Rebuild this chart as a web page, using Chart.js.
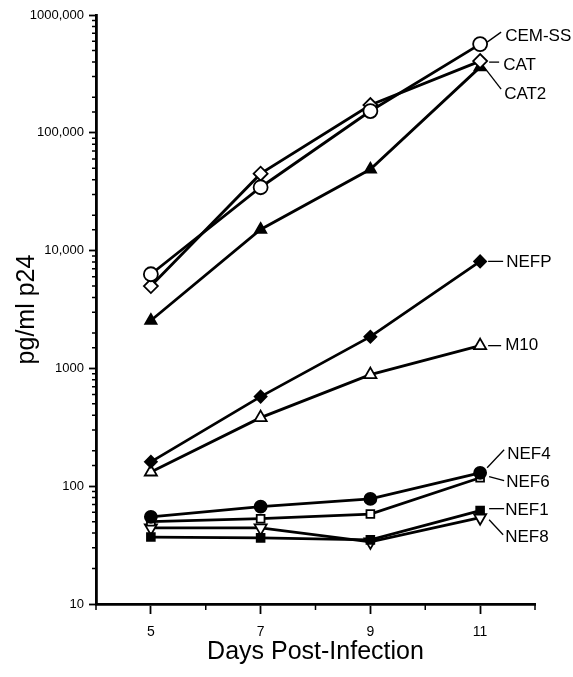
<!DOCTYPE html>
<html lang="en">
<head>
    <meta charset="UTF-8">
    <title>p24 production</title>
    <script src="https://cdn.jsdelivr.net/npm/chart.js"></script>
    <style>
        body { margin: 0; background: #fff; }
    </style>
</head>
<body>
    <canvas id="p24Chart" width="573" height="677"></canvas>

    <script>
        const days = [5, 7, 9, 11];

        const cemSS = [6300, 34500, 153000, 566000];
        const cat   = [5000, 45000, 172000, 406000];
        const cat2  = [2550, 15100, 49000, 361000];
        const nefP  = [161, 576, 1860, 8100];
        const m10   = [132, 382, 885, 1560];
        const nef4  = [55, 67, 78, 130];
        const nef6  = [50, 53, 58, 118];
        const nef1  = [37, 36.4, 35, 62];
        const nef8  = [44.3, 44.3, 33.7, 54];

        const seriesNames = ['CEM-SS', 'CAT', 'CAT2', 'NEFP', 'M10', 'NEF4', 'NEF6', 'NEF1', 'NEF8'];

        const yTickValues = [10, 100, 1000, 10000, 100000, 1000000];
        const yTickLabels = ['10', '100', '1000', '10,000', '100,000', '1000,000'];
        const xTickValues = [5, 7, 9, 11];
        const xTickLabels = ['5', '7', '9', '11'];

        const FONT = "'Liberation Sans', Arial, Helvetica, sans-serif";

        function series(data, style, rotation, filled, radius) {
            return {
                data: days.map((d, i) => ({ x: d, y: data[i] })),
                borderColor: '#000',
                borderWidth: 2.8,
                pointStyle: style,
                pointRotation: rotation,
                pointRadius: radius,
                pointBorderWidth: 1.8,
                pointBorderColor: '#000',
                pointBackgroundColor: filled ? '#000' : '#fff',
                fill: false,
                tension: 0,
                clip: false
            };
        }

        // label text and leader line relative to the last point of each series
        const labelLayout = [
            { dx: 25, dy: -8, line: [7, -2, 21, -12] },
            { dx: 23, dy: 4,  line: [9, 1, 19, 1] },
            { dx: 24, dy: 27, line: [4, 0, 21, 22] },
            { dx: 26, dy: 1,  line: [8, 0, 23, 0] },
            { dx: 25, dy: 0,  line: [8, 0, 21, 0] },
            { dx: 27, dy: -18, line: [7, -5, 24, -23] },
            { dx: 26, dy: 5,  line: [9, -1, 24, 3] },
            { dx: 25, dy: 0,  line: [9, -2, 24, -2] },
            { dx: 25, dy: 20, line: [9, 2, 23, 17] }
        ];

        const seriesLabels = {
            id: 'seriesLabels',
            afterDatasetsDraw(chart) {
                const ctx = chart.ctx;
                ctx.save();
                ctx.strokeStyle = '#000';
                ctx.fillStyle = '#000';
                ctx.lineWidth = 1.3;
                ctx.font = '17px ' + FONT;
                ctx.textBaseline = 'middle';
                chart.data.datasets.forEach((ds, i) => {
                    const pts = chart.getDatasetMeta(i).data;
                    const p = pts[pts.length - 1];
                    const l = labelLayout[i];
                    ctx.beginPath();
                    ctx.moveTo(p.x + l.line[0], p.y + l.line[1]);
                    ctx.lineTo(p.x + l.line[2], p.y + l.line[3]);
                    ctx.stroke();
                    ctx.fillText(seriesNames[i], p.x + l.dx, p.y + l.dy);
                });
                ctx.restore();
            }
        };

        // short minor ticks on both axes
        const minorTicks = {
            id: 'minorTicks',
            afterDraw(chart) {
                const ctx = chart.ctx;
                const y = chart.scales.y;
                const x = chart.scales.x;
                ctx.save();
                ctx.strokeStyle = '#000';
                ctx.lineWidth = 1.5;
                ctx.beginPath();
                y.ticks.forEach(t => {
                    if (yTickValues.includes(t.value)) return;
                    const py = y.getPixelForValue(t.value);
                    ctx.moveTo(y.right - 4, py);
                    ctx.lineTo(y.right, py);
                });
                x.ticks.forEach(t => {
                    if (xTickValues.includes(t.value)) return;
                    const px = x.getPixelForValue(t.value);
                    ctx.moveTo(px, x.top);
                    ctx.lineTo(px, x.top + 6);
                });
                ctx.stroke();
                ctx.restore();
            }
        };

        new Chart(document.getElementById('p24Chart'), {
            type: 'line',
            data: {
                datasets: [
                    series(cemSS, 'circle', 0, false, 7),
                    series(cat, 'rectRot', 0, false, 7),
                    series(cat2, 'triangle', 0, true, 6.5),
                    series(nefP, 'rectRot', 0, true, 6),
                    series(m10, 'triangle', 0, false, 7),
                    series(nef4, 'circle', 0, true, 6),
                    series(nef6, 'rect', 0, false, 5.5),
                    series(nef1, 'rect', 0, true, 5.5),
                    series(nef8, 'triangle', 180, false, 7)
                ]
            },
            options: {
                responsive: false,
                animation: false,
                layout: { padding: { top: 15, right: 38, left: 0, bottom: 0 } },
                plugins: {
                    legend: { display: false },
                    tooltip: { enabled: false }
                },
                scales: {
                    x: {
                        type: 'linear',
                        min: 4,
                        max: 12,
                        afterFit: s => { s.height = 73; },
                        border: { color: '#000', width: 2.8 },
                        grid: {
                            drawOnChartArea: false,
                            tickLength: 10,
                            tickWidth: 1.8,
                            tickColor: c => xTickValues.includes(c.tick.value) ? '#000' : 'rgba(0,0,0,0)'
                        },
                        ticks: {
                            stepSize: 1,
                            padding: 10,
                            color: '#000',
                            font: { family: FONT, size: 14 },
                            callback: v => {
                                const i = xTickValues.indexOf(v);
                                return i < 0 ? '' : xTickLabels[i];
                            }
                        },
                        title: {
                            display: true,
                            text: 'Days Post-Infection',
                            color: '#000',
                            font: { family: FONT, size: 25 },
                            padding: { top: 0, bottom: 10 }
                        }
                    },
                    y: {
                        type: 'logarithmic',
                        min: 10,
                        max: 1000000,
                        afterFit: s => { s.width = 96; },
                        border: { color: '#000', width: 2.8 },
                        grid: {
                            drawOnChartArea: false,
                            tickLength: 7,
                            tickWidth: 1.8,
                            tickColor: c => yTickValues.includes(c.tick.value) ? '#000' : 'rgba(0,0,0,0)'
                        },
                        ticks: {
                            padding: 5,
                            color: '#000',
                            autoSkip: false,
                            font: { family: FONT, size: 13 },
                            callback: v => {
                                const i = yTickValues.indexOf(v);
                                return i < 0 ? '' : yTickLabels[i];
                            }
                        },
                        title: {
                            display: true,
                            text: 'pg/ml p24',
                            color: '#000',
                            font: { family: FONT, size: 25 },
                            padding: { top: 12, bottom: 0 }
                        }
                    }
                }
            },
            plugins: [seriesLabels, minorTicks]
        });
    </script>
</body>
</html>
